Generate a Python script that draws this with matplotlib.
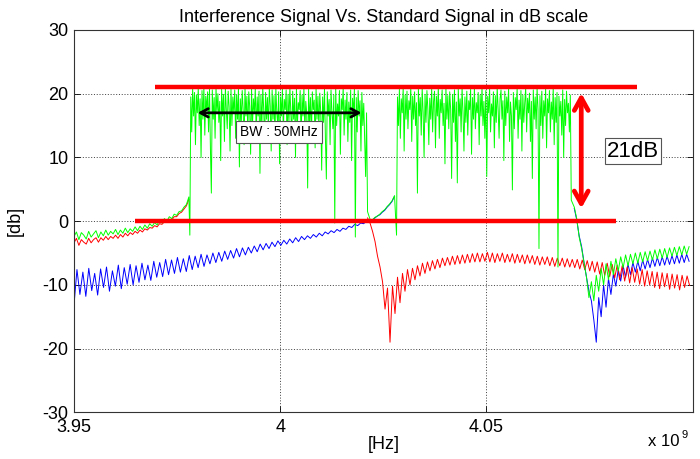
import numpy as np
import matplotlib.pyplot as plt

plt.rcParams['font.family'] = ['Liberation Sans', 'DejaVu Sans']
plt.rcParams['axes.unicode_minus'] = False

## frequency span (GHz) of each piece of the sweep
f_left = (3.9500, 3.97785)
f_band1 = (3.97809, 4.02094)
f_mid = (4.02118, 4.02772)
f_band2 = (4.02821, 4.07058)
f_right = (4.07131, 4.09915)
f_blue_left = (3.9500, 4.02094)
f_red_right = (4.02118, 4.09927)

## levels in dB
green_left = [-2.4, -1.7, -2.9, -1.8, -2.2, -2.8, -1.6, -2.5, -2.0, -1.5, -2.6, -1.7,
              -2.3, -1.4, -2.2, -1.6, -2.0, -1.3, -2.1, -1.4, -1.9, -1.1, -1.8, -1.2,
              -1.6, -0.9, -1.5, -0.8, -1.3, -0.6, -1.1, -0.4, -0.8, -0.2, -0.6, 0.1,
              -0.3, 0.4, 0.0, 0.7, 0.4, 1.1, 0.9, 1.5, 1.6, 2.2, 2.6, 3.8]
red_left = [-3.4, -2.7, -3.8, -2.9, -3.3, -3.6, -2.7, -3.4, -2.9, -2.6, -3.3, -2.6,
            -3.0, -2.4, -2.9, -2.4, -2.7, -2.2, -2.7, -2.1, -2.5, -1.9, -2.3, -1.8,
            -2.1, -1.6, -1.9, -1.4, -1.7, -1.2, -1.4, -1.0, -1.1, -0.7, -0.9, -0.4,
            -0.5, -0.1, -0.2, 0.3, 0.2, 0.7, 0.7, 1.2, 1.4, 1.9, 2.4, 3.4]
band1 = [-2.2, 19.5, 14, 20.8, 16.5, 20.2, 12, 19.8, 17, 20.9,
         15, 19.2, 10, 20.5, 16, 21, 13.5, 19.6, 17.5, 20.3,
         14, 20.8, 11.5, 4.4, 20.6, 16, 19.4, 13, 20.9, 17,
         20, 15.5, 18.8, 9.5, 20.7, 16.5, 19.9, 12.5, 21, 17.5,
         14.5, 20.4, 18, 11, 20.8, 15, 19.5, 17, 20.6, 13,
         19.8, 16, 21, 8.5, 19.2, 15.5, 20.5, 17.5, 12, 20.9,
         16.5, 19.6, 14, 20.3, 18, 10.5, 20.8, 15, 19.2, 17,
         21, 13.5, 19.5, 16.5, 20.4, 7.5, 19.8, 15, 20.9, 17.5,
         12.5, 20.2, 16, 19.4, 14.5, 21, 18, 11, 20.6, 16,
         19.7, 13, 20.9, 17, 15, 20.3, 9, 19.5, 16.5, 20.8,
         14, 19.1, 17.5, 20.6, 12, 19.9, 15.5, 21, 17, 13.5,
         20.4, 16, 19.3, 10, 20.8, 15, 18.6, 17.5, 20.5, 12.5,
         19.8, 16.5, 20.9, 14, 18.8, 17, 5.2, 20.7, 15.5, 19.4,
         13, 20.3, 17.5, 19, 11.5, 20.9, 16, 19.6, 14.5, 20.1,
         17, 8, 19.5, 15.5, 20.8, 13, 6.6, 20.3, 16.5, 19.1,
         12, 20.6, 17, 14.5, 19.8, -0.3, 20.9, 15, 18.4, 16.5,
         20.5, 10.5, 19.2, 17.5, 20.9, 13.5, 19, 16, 20.2, 12.5,
         18.7, 15.5, 20.6, 9.5, 19.3, 17, 20.8, -2.5, 19.4, 14,
         20.5, 16.5, 18.9, 11, 20.2, 15, 18.5, 13, 7, 17]
green_mid = [1.5, 0.3, 0.2, 0.6, 0.8, 1.1, 1.5, 1.8, 2.3, 2.7, 3.2, 4.0]
blue_mid = [0.1, 0.2, 0.2, 0.5, 0.8, 1.0, 1.4, 1.7, 2.2, 2.6, 3.1, 3.9]
band2 = [-2.2, 19.5, 15, 20.7, 13, 19.2, 17, 20.9, 11, 19.8,
         16, 20.4, 14.5, 18.9, 17.5, 21, 12.5, 19.6, 16, 20.3,
         15, 18.6, 4.4, 20.8, 16.5, 19.4, 13.5, 20.9, 17, 10,
         19.9, 15.5, 20.5, 17.5, 12, 19.3, 16, 20.8, 14, 18.8,
         20.4, 11.5, 19.6, 16.5, 21, 13, 19.1, 17, 20.6, 15,
         18.5, 9, 20.9, 16, 19.7, 14.5, 20.3, 17.5, 6.7, 19.9,
         15.5, 20.6, 12.5, 18.7, 6.0, 20.8, 16.5, 19.2, 14, 21,
         17, 11, 19.5, 15.5, 20.4, 13.5, 18.9, 17.5, 20.7, 10.5,
         19.4, 16, 20.9, 14.5, 18.6, 17, 20.2, 12, 19.8, 16.5,
         21, 15, 18.8, 13, 20.5, 7.0, 19.6, 17, 20.8, 14,
         18.4, 16.5, 20.3, 11.5, 19.7, 15.5, 21, 17.5, 13, 19.2,
         20.6, 16, 18.9, 9.5, 20.4, 15, 19.5, 17, 20.9, 12.5,
         18.7, 16.5, 4.9, 20.2, 14.5, 19.4, 17.5, 20.8, 13, 19,
         16, 20.5, 11, 19.8, 15.5, 18.6, 20.9, 14, 19.3, 17,
         20.1, 12.5, 18.8, 6.7, 20.6, 16, 19.5, 14.5, 20.9, 17.5,
         -4.3, 19.7, 15, 20.4, 13, 18.9, 16.5, 20.8, 11.5, 19.2,
         17, 20.5, 14, 18.7, 16, 20.9, 12, 19.4, 15.5, 20.2,
         -7.2, 19.6, 16.5, 18.8, 13.5, 20.6, 10, 19.1, 15, 20.4,
         17, 18.5, 14, 19.8, 3.3]
green_right = [2.2, 0.4, -2.5, -4.3, -6.5, -8.8, -12.0, -9.5, -12.5, -8.5, -11.0, -7.4,
               -10.0, -6.7, -9.2, -6.3, -8.4, -5.9, -7.8, -5.6, -7.3, -5.3, -7.0, -5.2,
               -6.7, -5.0, -6.6, -4.9, -6.4, -4.8, -6.2, -4.7, -6.1, -4.5, -5.9, -4.4,
               -5.8, -4.3, -5.7, -4.2, -5.5, -4.1, -5.4, -4.0, -5.3, -3.9, -5.2, -4.0]
blue_left = [-13.2, -7.6, -11.5, -8.0, -11.8, -7.4, -10.9, -8.2, -11.6, -7.5, -10.4, -7.2,
             -11.0, -7.8, -10.2, -6.9, -10.6, -7.3, -9.9, -6.8, -10.0, -7.0, -9.6, -6.6,
             -9.2, -6.9, -9.3, -6.3, -8.8, -6.5, -8.7, -6.0, -8.4, -6.1, -8.2, -5.7, -8.0,
             -5.9, -7.9, -5.4, -7.6, -5.5, -7.3, -5.2, -7.1, -5.3, -6.7, -5.0, -6.5, -4.9,
             -6.3, -4.7, -6.0, -4.6, -5.8, -4.3, -5.6, -4.2, -5.3, -4.1, -5.0, -3.9, -4.8,
             -3.6, -4.5, -3.5, -4.3, -3.3, -4.0, -3.1, -3.8, -3.0, -3.6, -2.8, -3.4, -2.6,
             -3.2, -2.4, -2.9, -2.3, -2.7, -2.1, -2.5, -1.9, -2.3, -1.7, -2.0, -1.5, -1.8,
             -1.3, -1.6, -1.1, -1.3, -0.8, -1.0, -0.5, -0.7, -0.3, -0.4, 0.0]
blue_right = [2.0, 0.2, -2.3, -4.0, -6.5, -8.8, -11.0, -12.5, -15.5, -19.0, -12.0, -15.0,
              -10.0, -13.5, -9.0, -11.5, -8.3, -10.2, -7.6, -9.4, -7.0, -8.8, -6.8, -8.4,
              -6.5, -8.0, -6.3, -7.8, -6.1, -7.5, -6.0, -7.3, -5.8, -7.1, -5.7, -7.0, -5.6,
              -6.9, -5.5, -6.8, -5.4, -6.7, -5.3, -6.6, -5.2, -6.5, -5.2, -6.3]
red_right = [0.5, -0.3, -1.6, -3.2, -5.5, -7.2, -9.5, -13.8, -10.5, -19.0, -10.2, -14.5,
             -8.8, -12.8, -8.2, -11.0, -7.6, -10.0, -7.4, -9.2, -7.0, -8.6, -6.6, -8.2,
             -6.4, -7.8, -6.2, -7.5, -6.0, -7.3, -5.8, -7.0, -5.7, -6.9, -5.5, -6.8, -5.4,
             -6.7, -5.3, -6.6, -5.2, -6.5, -5.1, -6.4, -5.0, -6.4, -5.1, -6.3, -4.9, -6.4,
             -5.0, -6.5, -5.1, -6.3, -5.0, -6.5, -5.2, -6.4, -5.1, -6.6, -5.2, -6.5, -5.3,
             -6.7, -5.3, -6.6, -5.4, -6.8, -5.5, -6.9, -5.6, -6.8, -5.6, -7.0, -5.7, -7.1,
             -5.8, -7.0, -5.8, -7.2, -5.9, -7.2, -6.0, -7.3, -6.0, -7.5, -6.1, -7.6, -6.2,
             -7.8, -6.3, -8.0, -6.4, -8.3, -6.5, -8.5, -6.6, -8.7, -6.8, -8.9, -6.9, -9.2,
             -7.0, -9.4, -7.2, -9.7, -7.3, -9.6, -7.5, -9.9, -7.6, -10.2, -7.8, -10.0, -7.9,
             -10.4, -8.0, -10.6, -8.1, -10.3, -8.2, -10.7, -8.3, -10.5, -8.4, -10.8, -8.5,
             -10.4, -8.6, -10.1]

## markers drawn over the plot
floor_db = 0.0
gap_db = 21.0
floor_span = (3.9648, 4.0815)
top_span = (3.9696, 4.0866)
bw_arrow = (3.9800, 4.0197, 17.0)
gap_arrow = (4.0730, 2.0, 20.1)


def piece(span, vals):
    return np.linspace(span[0], span[1], len(vals)), np.array(vals, dtype=float)


def join(*pieces):
    f = np.concatenate([p[0] for p in pieces])
    v = np.concatenate([p[1] for p in pieces])
    return f, v


# red and blue sit underneath the green inside the bands, so only the
# parts that stick out are drawn (keeps the band colour clean)
red_parts = [piece(f_left, red_left), piece(f_red_right, red_right)]
blue_parts = [join(piece(f_blue_left, blue_left), piece(f_mid, blue_mid)),
              piece(f_right, blue_right)]
f_grn, y_grn = join(piece(f_left, green_left), piece(f_band1, band1),
                    piece(f_mid, green_mid), piece(f_band2, band2),
                    piece(f_right, green_right))

fig = plt.figure(figsize=(7.0, 4.59), dpi=100)
ax = fig.add_axes([74 / 700, 1 - 412.3 / 459, 618.6 / 700, 382.3 / 459])

for f, v in blue_parts:
    ax.plot(f, v, color='b', lw=0.7)
for f, v in red_parts:
    ax.plot(f, v, color='r', lw=0.7)
ax.plot(f_grn, y_grn, color='#00ff00', lw=0.7)

# reference levels and the 21 dB gap between them
ax.plot(floor_span, [floor_db, floor_db], color='r', lw=3.2, solid_capstyle='butt')
ax.plot(top_span, [floor_db + gap_db, floor_db + gap_db], color='r', lw=3.2,
        solid_capstyle='butt')

ax.annotate('', xy=(bw_arrow[0], bw_arrow[2]), xytext=(bw_arrow[1], bw_arrow[2]),
            arrowprops=dict(arrowstyle='<->,head_length=0.55,head_width=0.3',
                            color='k', lw=2.0, shrinkA=0, shrinkB=0))
ax.annotate('', xy=(gap_arrow[0], gap_arrow[2]), xytext=(gap_arrow[0], gap_arrow[1]),
            arrowprops=dict(arrowstyle='<->,head_length=0.9,head_width=0.5',
                            color='r', lw=3.4, shrinkA=0, shrinkB=0))

ax.text(3.99965, 14.0, 'BW : 50MHz', ha='center', va='center', fontsize=10,
        bbox=dict(boxstyle='square,pad=0.3', fc='white', ec='#555555', lw=0.8), zorder=5)
ax.text(4.0856, 11.0, '%ddB' % gap_db, ha='center', va='center', fontsize=16,
        bbox=dict(boxstyle='square,pad=0.1', fc='white', ec='#555555', lw=0.8), zorder=5)

ax.set_xlim(3.95, 4.1)
ax.set_ylim(-30, 30)
ax.set_xticks([3.95, 4.0, 4.05])
ax.set_xticklabels(['3.95', '4', '4.05'])
ax.set_yticks([-30, -20, -10, 0, 10, 20, 30])
ax.tick_params(direction='in', length=4, width=0.6, top=True, right=True,
               labelsize=13, pad=5)
ax.tick_params(axis='y', pad=4)
ax.grid(True, color='k', linestyle=(0, (1.5, 2.5)), lw=0.5)
for s in ax.spines.values():
    s.set_linewidth(0.8)
    s.set_color('#333333')

ax.set_title('Interference Signal Vs. Standard Signal in dB scale', fontsize=13, pad=6)
ax.set_xlabel('[Hz]', fontsize=13, labelpad=0)
ax.set_ylabel('[db]', fontsize=13)
ax.yaxis.set_label_coords(-0.082, 0.5)

fig.text(648 / 700, 1 - 446 / 459, 'x 10', fontsize=12, va='baseline')
fig.text(681 / 700, 1 - 438 / 459, '9', fontsize=8, va='baseline')

fig.savefig('out.png', dpi=100, facecolor='white')
